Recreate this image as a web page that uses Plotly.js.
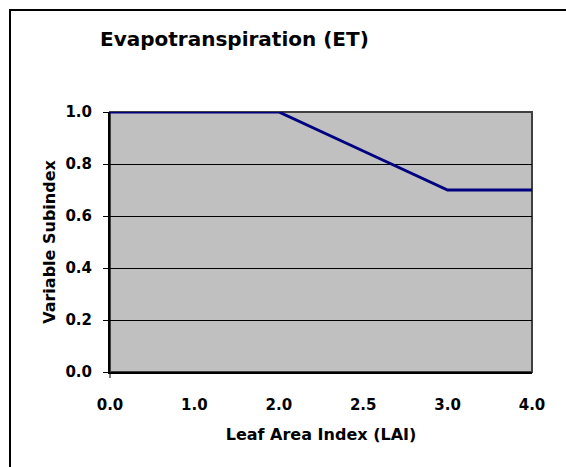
<!DOCTYPE html>
<html>
<head>
<meta charset="utf-8">
<script src="https://cdn.plot.ly/plotly-3.0.1.min.js"></script>
<style>
  html, body { margin: 0; padding: 0; background: #fff; overflow: hidden; }
  #wrap { position: relative; width: 566px; height: 467px; }
  #chart { width: 566px; height: 467px; }
  #frame { position: absolute; left: 9px; top: 9px; width: 700px; height: 700px;
           border: 2px solid #000; pointer-events: none; }
</style>
</head>
<body>
<div id="wrap">
  <div id="chart"></div>
  <div id="frame"></div>
</div>
<script>
// Data
const laiCategories = ['0.0', '1.0', '2.0', '2.5', '3.0', '4.0'];
const variableSubindex = [1.0, 1.0, 1.0, 0.85, 0.7, 0.7];
const yTickValues = [0.0, 0.2, 0.4, 0.6, 0.8, 1.0];

const fontFamily = 'DejaVu Sans, Verdana, sans-serif';

const trace = {
  type: 'scatter',
  mode: 'lines',
  x: laiCategories,
  y: variableSubindex,
  line: { color: '#000080', width: 3 },
  hoverinfo: 'skip',
  showlegend: false
};

const layout = {
  width: 566,
  height: 467,
  margin: { l: 110, r: 34, t: 112, b: 95, pad: 0 },
  paper_bgcolor: 'rgba(0,0,0,0)',
  plot_bgcolor: '#C0C0C0',
  showlegend: false,
  title: {
    text: 'Evapotranspiration (ET)',
    font: { family: fontFamily, size: 20, color: '#000', weight: 'bold' },
    xref: 'container', yref: 'container',
    x: 100 / 566, xanchor: 'left',
    y: 1 - 39 / 467, yanchor: 'middle'
  },
  xaxis: {
    type: 'category',
    categoryorder: 'array',
    categoryarray: laiCategories,
    range: [0, laiCategories.length - 1],
    showgrid: false,
    zeroline: false,
    showline: true,
    linecolor: '#000',
    linewidth: 2,
    ticks: '',
    ticklabelstandoff: 18,
    tickfont: { family: fontFamily, size: 15, color: '#000', weight: 'bold' },
    title: {
      text: 'Leaf Area Index (LAI)',
      font: { family: fontFamily, size: 16, color: '#000', weight: 'bold' },
      standoff: 16
    },
    fixedrange: true
  },
  yaxis: {
    range: [0, 1],
    tickvals: yTickValues,
    tickformat: '.1f',
    showgrid: true,
    gridcolor: '#000',
    gridwidth: 1,
    zeroline: false,
    showline: true,
    linecolor: '#000',
    linewidth: 2,
    ticks: 'outside',
    ticklen: 5,
    tickwidth: 1,
    tickcolor: '#000',
    ticklabelstandoff: 8,
    tickfont: { family: fontFamily, size: 15, color: '#000', weight: 'bold' },
    title: {
      text: 'Variable Subindex',
      font: { family: fontFamily, size: 16, color: '#000', weight: 'bold' },
      standoff: 6
    },
    fixedrange: true
  },
  shapes: [
    {
      type: 'rect', xref: 'paper', yref: 'paper',
      x0: 0, x1: 1, y0: 0, y1: 1,
      line: { color: '#404040', width: 2 },
      layer: 'between'
    },
    {
      type: 'line', xref: 'paper', yref: 'paper',
      x0: 0, x1: 0, y0: 0, y1: -6,
      ysizemode: 'pixel', yanchor: 0,
      line: { color: '#000', width: 1 }
    }
  ]
};

Plotly.newPlot('chart', [trace], layout, { displayModeBar: false, staticPlot: true });
</script>
</body>
</html>
